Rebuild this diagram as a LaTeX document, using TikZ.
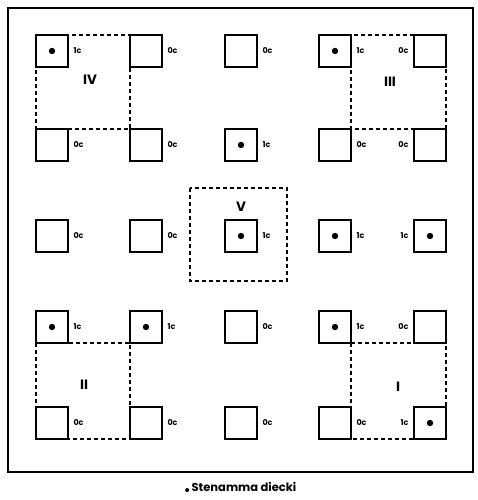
\documentclass[tikz,border=0pt]{standalone}
\usepackage{fontspec}
\setmainfont{Poppins}
\usetikzlibrary{positioning}

\begin{document}
\begin{tikzpicture}[x=1pt, y=-1pt, line width=2pt,
  trap/.style={draw, minimum size=32pt, inner sep=0pt, outer sep=0pt},
  catch/.style={font=\bfseries\fontsize{8}{8}\selectfont, inner sep=1.5pt},
  quadrat/.style={draw, dash pattern=on 4pt off 3pt, line width=1.8pt},
  area/.style={font=\bfseries\fontsize{13.5}{14}\selectfont, inner sep=0pt}]
  \useasboundingbox (0,0) rectangle (477,500);
  \draw[line width=2.8pt] (8,8) rectangle (473,472);
  % traps on the grid
  \foreach \c/\x in {1/52, 2/146, 3/241, 4/335, 5/430}
    \foreach \r/\y in {1/51, 2/145, 3/236, 4/327, 5/423}
      \node[trap] (t\r\c) at (\x,\y) {};
  % quadrats
  \draw[quadrat] (t11.north west) -- (t21.north west) -- (t22.north west) -- (t12.north west) -- cycle;
  \draw[quadrat] (t14.north east) -- (t24.north east) -- (t25.north east) -- (t15.north east) -- cycle;
  \draw[quadrat] (t41.south west) -- (t51.south west) -- (t52.south west) -- (t42.south west) -- cycle;
  \draw[quadrat] (t44.south east) -- (t54.south east) -- (t55.south east) -- (t45.south east) -- cycle;
  \draw[quadrat] ([shift={(-51,-48)}]t33.center) rectangle ([shift={(46,45)}]t33.center);
  \node[area] (pIV) at (90,80) {IV};
  \node[area] (pIII) at (390,82) {III};
  \node[area] (pII) at (84,385) {II};
  \node[area] (pI) at (398,387) {I};
  \node[area] (pV) at (241,207) {V};
  % catches
  \foreach \t in {t11, t14, t23, t33, t34, t35, t41, t42, t44, t55}
    \fill (\t) circle (3.2pt);
  \foreach \t/\n in {t11/1, t14/1, t23/1, t33/1, t34/1, t41/1, t42/1, t44/1,
      t12/0, t13/0, t21/0, t22/0, t24/0, t31/0, t32/0, t43/0, t51/0, t52/0, t53/0, t54/0}
    \node[catch, right=3pt of \t] (c\t) {\n c};
  \foreach \t/\n in {t15/0, t25/0, t45/0, t35/1, t55/1}
    \node[catch, left=3pt of \t] (c\t) {\n c};
  % caption
  \node[font=\bfseries\fontsize{11.5}{12}\selectfont, inner sep=0pt] (cap) at (244,487) {Stenamma diecki};
  \fill ([xshift=-3.5pt, yshift=1.5pt]cap.base west) circle (2pt);
\end{tikzpicture}
\end{document}
